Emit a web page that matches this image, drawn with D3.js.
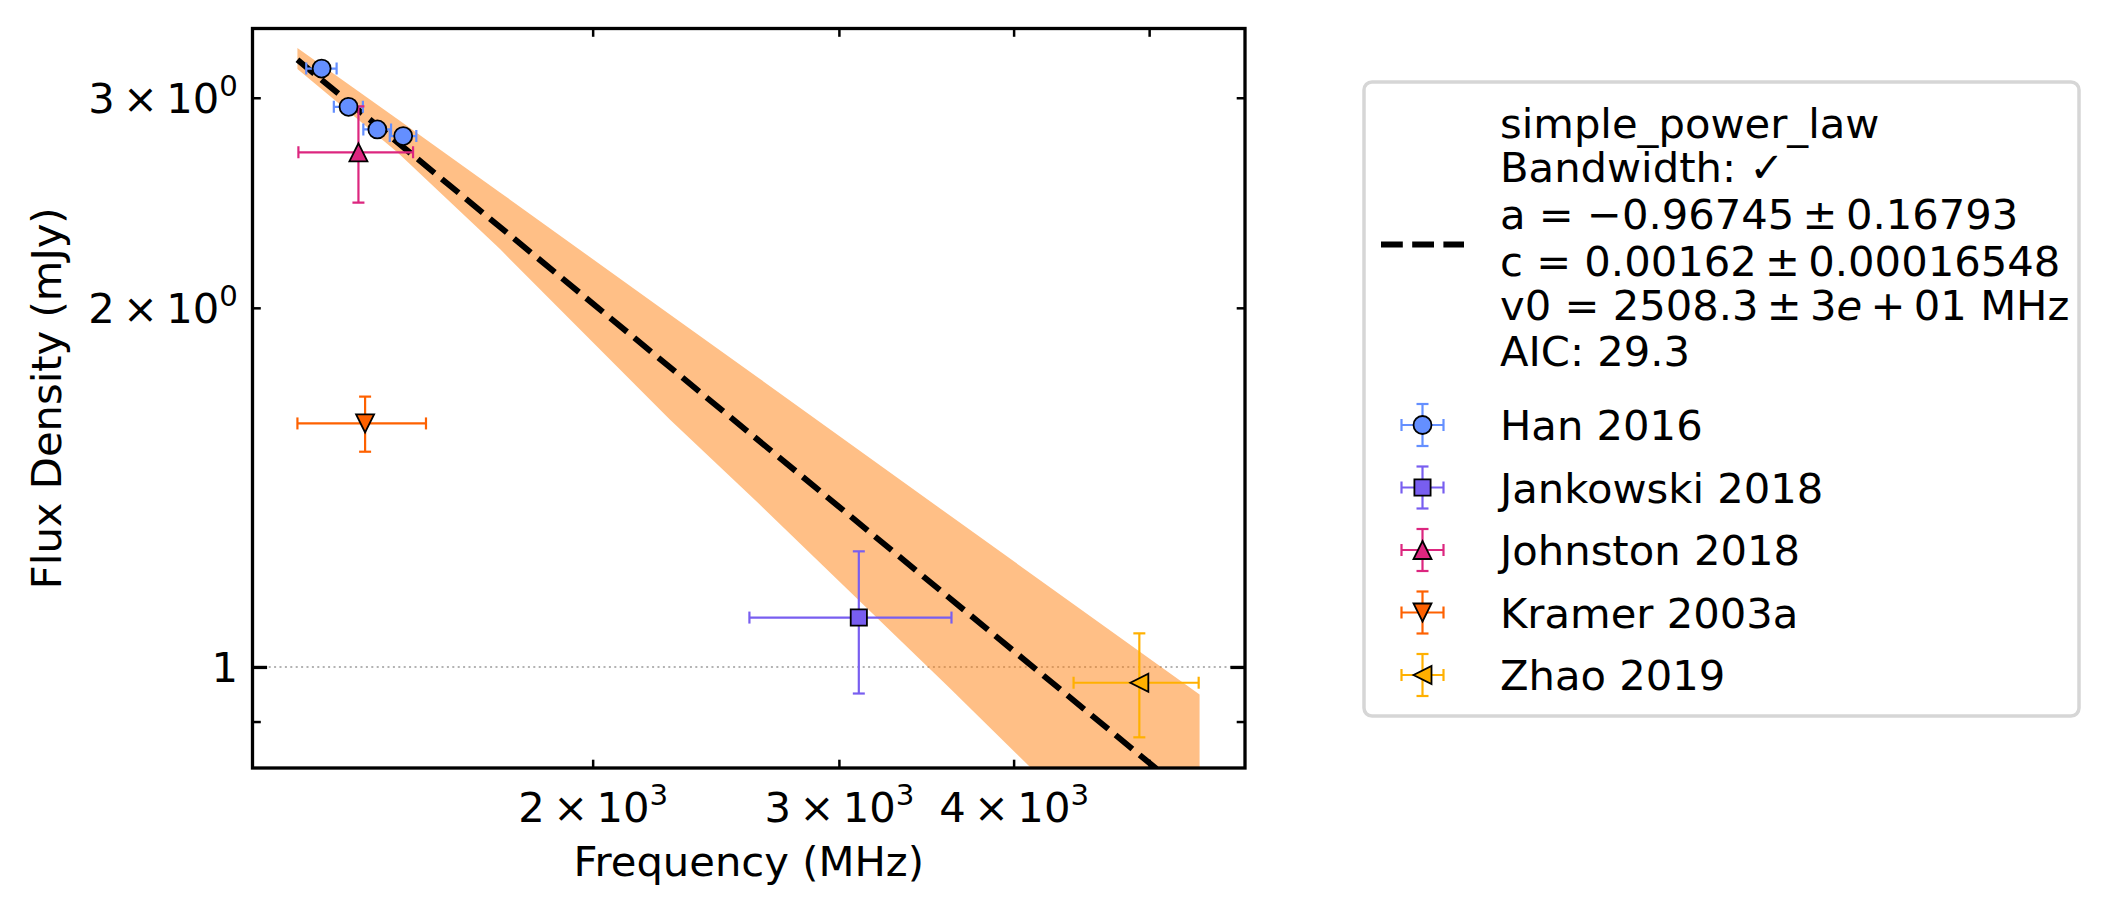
<!DOCTYPE html>
<html>
<head>
<meta charset="utf-8">
<script src="https://cdn.jsdelivr.net/npm/d3@7"></script>
<style>
  body { margin: 0; background: #fff; }
  svg { display: block; }
  text { font-family: "DejaVu Sans", sans-serif; fill: #000; }
</style>
</head>
<body>
<svg id="chart" width="2112" height="914"></svg>
<script>
// data (MHz, mJy)
const hanFreq = [1280, 1338, 1403, 1464];
const hanFreqErr = [32, 32, 32, 32];
const hanFlux = [3.174, 2.948, 2.822, 2.786];
const hanFluxErr = [0.02, 0.02, 0.02, 0.02];

const jankowskiFreq = [3100];
const jankowskiFreqErr = [511];
const jankowskiFlux = [1.10];
const jankowskiFluxErr = [0.15];

const johnstonFreq = [1360];
const johnstonFreqErr = [128];
const johnstonFlux = [2.70];
const johnstonFluxErr = [0.25];

const kramerFreq = [1375];
const kramerFreqErr = [145];
const kramerFlux = [1.60];
const kramerFluxErr = [0.085];

const zhaoFreq = [4920];
const zhaoFreqErr = [505];
const zhaoFlux = [0.97];
const zhaoFluxErr = [0.097];

// fitted model line and its uncertainty band
const fitFreq = [1230, 5433];
const fitFlux = [3.228, 0.767];
const bandFreq = [1230, 1450, 1717, 2270, 2630, 3600, 5433];
const bandLow = [3.171, 2.700, 2.240, 1.613, 1.370, 0.960, 0.598];
const bandHigh = [3.302, 2.880, 2.499, 1.975, 1.746, 1.340, 0.948];

const legendFitLines = ["simple_power_law", "Bandwidth: \u2713", "a = \u22120.96745\u2009\u00b1\u20090.16793",
  "c = 0.00162\u2009\u00b1\u20090.00016548", "v0 = 2508.3\u2009\u00b1\u20093|e|\u2009+\u200901 MHz", "AIC: 29.3"];

const xTicks = [2000, 3000, 4000, 5000];
const xTickLabels = {2000: ["2", "3"], 3000: ["3", "3"], 4000: ["4", "3"]};
const yMinorTicks = [0.9, 2, 3];
const yMajorTicks = [1];
const yTickLabels = {2: ["2", "0"], 3: ["3", "0"]};

const series = [
  {name: "Han 2016", f: hanFreq, fe: hanFreqErr, s: hanFlux, se: hanFluxErr, color: "#648FFF", shape: "circle"},
  {name: "Jankowski 2018", f: jankowskiFreq, fe: jankowskiFreqErr, s: jankowskiFlux, se: jankowskiFluxErr, color: "#785EF0", shape: "square"},
  {name: "Johnston 2018", f: johnstonFreq, fe: johnstonFreqErr, s: johnstonFlux, se: johnstonFluxErr, color: "#DC267F", shape: "up"},
  {name: "Kramer 2003a", f: kramerFreq, fe: kramerFreqErr, s: kramerFlux, se: kramerFluxErr, color: "#FE6100", shape: "down"},
  {name: "Zhao 2019", f: zhaoFreq, fe: zhaoFreqErr, s: zhaoFlux, se: zhaoFluxErr, color: "#FFB000", shape: "left"}
];

const svg = d3.select("#chart");
const pL = 252.5, pR = 1245, pT = 28.5, pB = 768;
const fs = 41.7;

const x = d3.scaleLog().domain([1142.3, 5855]).range([pL, pR]);
const y = d3.scaleLog().domain([0.8228, 3.429]).range([pB, pT]);

svg.append("defs").append("clipPath").attr("id", "plotclip")
  .append("rect").attr("x", pL).attr("y", pT).attr("width", pR - pL).attr("height", pB - pT);

const plot = svg.append("g").attr("clip-path", "url(#plotclip)");

// horizontal reference at 1 mJy
plot.append("line")
  .attr("x1", pL).attr("x2", pR)
  .attr("y1", y(1)).attr("y2", y(1))
  .attr("stroke", "#b3b3b3").attr("stroke-width", 2).attr("stroke-dasharray", "2,3.4");

// band
const bandData = bandFreq.map((f, i) => ({f: f, lo: bandLow[i], hi: bandHigh[i]}));
plot.append("path")
  .datum(bandData)
  .attr("d", d3.area().x(d => x(d.f)).y0(d => y(d.lo)).y1(d => y(d.hi)))
  .attr("fill", "#ff7f0e").attr("fill-opacity", 0.5);

// fit line
plot.append("path")
  .datum(fitFreq.map((f, i) => [f, fitFlux[i]]))
  .attr("d", d3.line().x(d => x(d[0])).y(d => y(d[1])))
  .attr("fill", "none").attr("stroke", "#000").attr("stroke-width", 5.9)
  .attr("stroke-dasharray", "21.8,9.4");

function markerPath(shape, h) {
  if (shape === "circle") return `M${-h},0A${h},${h} 0 1,0 ${h},0A${h},${h} 0 1,0 ${-h},0Z`;
  if (shape === "square") return `M${-h * 0.9},${-h * 0.9}H${h * 0.9}V${h * 0.9}H${-h * 0.9}Z`;
  if (shape === "up") return `M0,${-h}L${h},${h}L${-h},${h}Z`;
  if (shape === "down") return `M0,${h}L${h},${-h}L${-h},${-h}Z`;
  return `M${-h},0L${h},${-h}L${h},${h}Z`;
}

function errorbar(g, cx, x0, x1, cy, y0, y1, color, cap) {
  g.append("line").attr("x1", x0).attr("x2", x1).attr("y1", cy).attr("y2", cy);
  g.append("line").attr("x1", cx).attr("x2", cx).attr("y1", y0).attr("y2", y1);
  [x0, x1].forEach(v => g.append("line").attr("x1", v).attr("x2", v).attr("y1", cy - cap).attr("y2", cy + cap));
  [y0, y1].forEach(v => g.append("line").attr("x1", cx - cap).attr("x2", cx + cap).attr("y1", v).attr("y2", v));
  g.selectAll("line").attr("stroke", color).attr("stroke-width", 2.2);
}

series.forEach(sr => {
  sr.f.forEach((f, i) => {
    const g = plot.append("g");
    errorbar(g, x(f), x(f - sr.fe[i]), x(f + sr.fe[i]), y(sr.s[i]), y(sr.s[i] + sr.se[i]), y(sr.s[i] - sr.se[i]), sr.color, 6);
  });
});
series.forEach(sr => {
  plot.selectAll(null).data(sr.f).enter().append("path")
    .attr("transform", (f, i) => `translate(${x(f)},${y(sr.s[i])})`)
    .attr("d", markerPath(sr.shape, 9))
    .attr("fill", sr.color).attr("stroke", "#000").attr("stroke-width", 1.8);
});

// axes (ticks point inward on all sides)
function styleAxis(g) {
  g.select(".domain").remove();
  g.selectAll(".tick line").attr("stroke", "#000");
  g.selectAll(".tick text").attr("font-size", fs).attr("font-family", "DejaVu Sans");
}
function sciLabel(textSel, lab) {
  textSel.text(null);
  textSel.append("tspan").text(lab[0] + "\u2009\u00d7\u200910");
  textSel.append("tspan").attr("font-size", fs * 0.7).attr("dy", -17).text(lab[1]);
}

const xAxisB = svg.append("g").attr("transform", `translate(0,${pB})`)
  .call(d3.axisBottom(x).tickValues(xTicks).tickSize(-8.3).tickPadding(14.6).tickFormat(() => ""));
styleAxis(xAxisB);
xAxisB.selectAll(".tick line").attr("stroke-width", 2.5);
xAxisB.selectAll(".tick text").attr("dy", null).attr("y", 54).each(function(d) {
  if (xTickLabels[d]) sciLabel(d3.select(this), xTickLabels[d]);
});

const xAxisT = svg.append("g").attr("transform", `translate(0,${pT})`)
  .call(d3.axisTop(x).tickValues(xTicks).tickSize(-8.3).tickFormat(() => ""));
styleAxis(xAxisT);
xAxisT.selectAll(".tick line").attr("stroke-width", 2.5);

[[d3.axisLeft, pL], [d3.axisRight, pR]].forEach(([axisFn, pos], k) => {
  const gMin = svg.append("g").attr("transform", `translate(${pos},0)`)
    .call(axisFn(y).tickValues(yMinorTicks).tickSize(-8.3).tickPadding(14.6).tickFormat(() => ""));
  styleAxis(gMin);
  gMin.selectAll(".tick line").attr("stroke-width", 2.5);
  const gMaj = svg.append("g").attr("transform", `translate(${pos},0)`)
    .call(axisFn(y).tickValues(yMajorTicks).tickSize(-14.6).tickPadding(14.6).tickFormat(() => ""));
  styleAxis(gMaj);
  gMaj.selectAll(".tick line").attr("stroke-width", 3.3);
  if (k === 0) {
    gMin.selectAll(".tick text").attr("dy", null).attr("y", 15).each(function(d) {
      if (yTickLabels[d]) sciLabel(d3.select(this), yTickLabels[d]);
    });
    gMaj.selectAll(".tick text").attr("dy", null).attr("y", 15).text("1");
  }
});

// frame
svg.append("rect")
  .attr("x", pL).attr("y", pT).attr("width", pR - pL).attr("height", pB - pT)
  .attr("fill", "none").attr("stroke", "#000").attr("stroke-width", 3.3);

// axis labels
svg.append("text").attr("x", (pL + pR) / 2).attr("y", 876)
  .attr("text-anchor", "middle").attr("font-size", fs).text("Frequency (MHz)");
svg.append("text").attr("transform", `translate(61,${(pT + pB) / 2}) rotate(-90)`)
  .attr("text-anchor", "middle").attr("font-size", fs).text("Flux Density (mJy)");

// legend
const legend = svg.append("g");
legend.append("rect")
  .attr("x", 1364).attr("y", 82).attr("width", 715).attr("height", 634).attr("rx", 8)
  .attr("fill", "#fff").attr("stroke", "#d6d6d6").attr("stroke-width", 3.5);

legend.append("line")
  .attr("x1", 1381).attr("x2", 1464).attr("y1", 244.5).attr("y2", 244.5)
  .attr("stroke", "#000").attr("stroke-width", 5.9).attr("stroke-dasharray", "21.8,9.4");

const fitBase = [138, 182, 229, 276, 320, 366];
legendFitLines.forEach((ln, i) => {
  const t = legend.append("text").attr("x", 1500).attr("y", fitBase[i]).attr("font-size", fs);
  ln.split("|").forEach(part => {
    const sp = t.append("tspan").text(part);
    if (part === "e") sp.attr("font-style", "italic");
  });
});

const rowBase = d3.range(series.length).map(i => 440 + i * 62.5);
series.forEach((sr, i) => {
  const cy = rowBase[i] - 15, cx = 1422.5;
  const g = legend.append("g");
  errorbar(g, cx, cx - 21, cx + 21, cy, cy - 21, cy + 21, sr.color, 6);
  legend.append("path").attr("transform", `translate(${cx},${cy})`)
    .attr("d", markerPath(sr.shape, 9))
    .attr("fill", sr.color).attr("stroke", "#000").attr("stroke-width", 1.8);
  legend.append("text").attr("x", 1500).attr("y", rowBase[i]).attr("font-size", fs).text(sr.name);
});
</script>
</body>
</html>
